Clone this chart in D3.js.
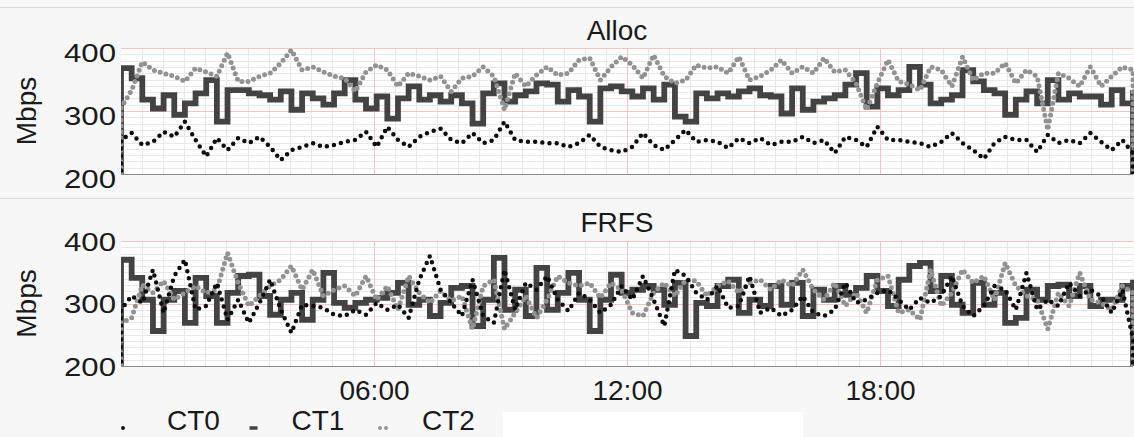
<!DOCTYPE html>
<html>
<head>
<meta charset="utf-8">
<script src="https://cdn.jsdelivr.net/npm/d3@7"></script>
<style>
  body { margin: 0; background: #f7f7f7; }
  svg { display: block; font-family: "Liberation Sans", Arial, sans-serif; }
</style>
</head>
<body>
<svg id="chart" width="1134" height="437"></svg>
<script>
// data (Mbps, 96 samples over 24h)
var seriesNames = ["CT0", "CT1", "CT2"];
var panelTitles = ["Alloc", "FRFS"];
var yTicks = [200, 300, 400];
var xTickHours = [6, 12, 18];

var allocCT0 = [254,265,246,251,267,259,283,254,228,257,238,257,249,259,243,222,238,243,249,243,246,251,254,267,243,275,254,243,259,267,272,254,
  249,265,249,254,283,254,251,251,249,249,243,249,262,243,238,235,243,265,246,238,254,270,251,254,251,241,257,249,257,246,251,251,
  259,249,254,233,259,254,243,275,254,254,251,249,243,251,265,249,238,224,249,259,254,254,235,262,249,254,249,265,251,238,254,233];
var allocCT1 = [368,352,318,304,325,294,312,328,349,283,333,333,328,325,318,331,302,328,320,310,328,349,318,304,323,288,320,339,318,325,315,325,
  312,280,328,344,315,325,331,344,342,315,333,323,283,336,339,331,323,336,318,342,291,283,328,320,328,323,331,336,325,323,296,336,
  302,315,320,325,342,360,307,336,325,333,370,342,312,318,325,365,347,333,328,294,318,331,312,349,318,328,323,323,310,333,312,333];
var allocCT2 = [305,333,378,365,360,355,347,368,362,355,392,347,347,355,360,376,397,365,370,362,355,352,331,362,373,365,339,360,355,349,355,331,
  352,355,370,355,302,360,339,357,370,357,360,381,384,349,370,386,373,352,389,355,344,349,373,368,370,360,386,349,355,365,381,360,
  370,360,384,362,365,344,302,344,381,347,342,333,370,365,339,386,349,360,360,376,344,365,355,270,360,352,339,370,339,355,370,365];

var frfsCT0 = [290,312,301,354,285,344,370,290,296,333,274,306,269,301,338,290,253,298,296,293,282,280,290,282,301,290,298,277,338,376,322,301,
  280,338,280,269,354,290,333,322,344,306,288,317,306,285,298,328,306,344,306,264,354,344,317,306,328,293,296,344,285,293,280,290,
  312,285,280,290,333,301,306,317,322,306,290,309,301,312,344,296,280,296,328,322,290,349,290,306,296,333,312,322,312,285,322,243];
var frfsCT1 = [370,341,306,256,306,320,269,341,312,269,317,344,346,312,282,306,317,274,306,349,301,293,301,306,309,317,333,298,306,280,301,325,
  328,264,306,373,290,322,280,357,290,317,349,306,256,306,346,317,322,328,322,298,333,248,301,296,328,338,285,306,296,328,298,333,
  280,322,306,328,314,325,344,320,296,338,360,365,320,344,298,285,333,298,317,269,277,322,306,328,330,312,328,296,306,306,328,338];
var frfsCT2 = [269,277,330,317,336,306,317,328,317,322,381,333,296,312,328,338,360,322,354,312,322,328,312,344,306,328,290,344,317,301,320,304,
  312,259,328,338,259,285,312,277,306,344,333,328,333,309,333,322,285,280,317,333,312,338,336,312,328,336,317,333,338,322,338,328,
  354,322,306,333,296,317,285,338,344,285,290,274,354,296,317,354,333,344,306,365,328,312,306,259,317,296,349,306,301,290,328,317];

var svgWidth = 1134;
var svgHeight = 437;
var margin = { left: 121, right: 1 };
var width = svgWidth - margin.left - margin.right;

var panels = [
  { title: panelTitles[0], top: 48, height: 126, titleY: 40, labelShift: 4, series: [allocCT0, allocCT1, allocCT2] },
  { title: panelTitles[1], top: 241, height: 125, titleY: 232, labelShift: 0, series: [frfsCT0, frfsCT1, frfsCT2] }
];

var styles = {
  CT0: { color: "#0d0d0d", width: 4.5, dash: "0,7.2", curve: d3.curveLinear },
  CT1: { color: "#434343", width: 5.8, dash: null, curve: d3.curveStepAfter },
  CT2: { color: "#929292", width: 5, dash: "0,6", curve: d3.curveLinear }
};
var drawOrder = ["CT1", "CT2", "CT0"];

var t0 = new Date(Date.UTC(2000, 0, 1, 0));
var t24 = new Date(Date.UTC(2000, 0, 2, 0));

var svg = d3.select("#chart");

// separators
svg.append("line").attr("x1", 0).attr("x2", svgWidth).attr("y1", 7.5).attr("y2", 7.5)
  .attr("stroke", "#dadada");
svg.append("line").attr("x1", 0).attr("x2", svgWidth).attr("y1", 198.5).attr("y2", 198.5)
  .attr("stroke", "#dadada");

var x = d3.scaleUtc().domain([t0, t24]).range([margin.left, margin.left + width]);

function toPoints(values) {
  var step = (t24 - t0) / (values.length - 1);
  var pts = values.map(function(v, i) {
    return { t: new Date(t0.getTime() + i * step), v: v };
  });
  // series start and end at zero
  pts.unshift({ t: t0, v: 0 });
  pts.push({ t: t24, v: 0 });
  return pts;
}

panels.forEach(function(p, pi) {
  var y = d3.scaleLinear().domain([200, 400]).range([p.top + p.height, p.top]);
  var g = svg.append("g");

  g.append("rect")
    .attr("x", margin.left).attr("y", p.top)
    .attr("width", width).attr("height", p.height)
    .attr("fill", "#fff");

  // minor grid
  g.selectAll(".hgrid")
    .data(d3.range(210, 400, 10).filter(function(d) { return d !== 300; }))
    .enter().append("line")
    .attr("x1", margin.left).attr("x2", margin.left + width)
    .attr("y1", function(d) { return Math.round(y(d)) + 0.5; })
    .attr("y2", function(d) { return Math.round(y(d)) + 0.5; })
    .attr("stroke", "#e8e8e8");

  var halfHours = d3.utcMinute.every(30).range(t0, t24).slice(1)
    .filter(function(d) { return d.getUTCMinutes() !== 0 || d.getUTCHours() % 6 !== 0; });
  g.selectAll(".vgrid")
    .data(halfHours)
    .enter().append("line")
    .attr("x1", function(d) { return Math.round(x(d)) + 0.5; })
    .attr("x2", function(d) { return Math.round(x(d)) + 0.5; })
    .attr("y1", p.top).attr("y2", p.top + p.height)
    .attr("stroke", "#e8e8e8");

  // major grid in red
  g.selectAll(".hmajor")
    .data([300, 400])
    .enter().append("line")
    .attr("x1", margin.left).attr("x2", margin.left + width)
    .attr("y1", function(d) { return Math.round(y(d)) + 0.5; })
    .attr("y2", function(d) { return Math.round(y(d)) + 0.5; })
    .attr("stroke", "#f6c4c4");
  g.selectAll(".vmajor")
    .data(xTickHours)
    .enter().append("line")
    .attr("x1", function(d) { return Math.round(x(d3.utcHour.offset(t0, d))) + 0.5; })
    .attr("x2", function(d) { return Math.round(x(d3.utcHour.offset(t0, d))) + 0.5; })
    .attr("y1", p.top).attr("y2", p.top + p.height)
    .attr("stroke", "#f6c4c4");

  g.append("line")
    .attr("x1", margin.left).attr("x2", margin.left + width)
    .attr("y1", p.top + p.height + 0.5).attr("y2", p.top + p.height + 0.5)
    .attr("stroke", "#8a8a8a");

  g.append("clipPath").attr("id", "clip" + pi)
    .append("rect")
    .attr("x", margin.left).attr("y", p.top)
    .attr("width", width + 1).attr("height", p.height);

  var lines = g.append("g").attr("clip-path", "url(#clip" + pi + ")");
  drawOrder.forEach(function(name) {
    var s = styles[name];
    var line = d3.line()
      .x(function(d) { return x(d.t); })
      .y(function(d) { return y(d.v); })
      .curve(s.curve);
    lines.append("path")
      .datum(toPoints(p.series[seriesNames.indexOf(name)]))
      .attr("d", line)
      .attr("fill", "none")
      .attr("stroke", s.color)
      .attr("stroke-width", s.width)
      .attr("stroke-linecap", s.dash ? "round" : "square")
      .attr("stroke-linejoin", "miter")
      .attr("stroke-dasharray", s.dash);
  });

  // y axis, labels are drawn a bit wide like the original
  var yAxis = g.append("g")
    .attr("transform", "translate(" + margin.left + ",0)")
    .call(d3.axisLeft(y).tickValues(yTicks).tickSize(0).tickPadding(0));
  yAxis.select(".domain").remove();
  yAxis.selectAll(".tick text")
    .attr("x", 0)
    .attr("dy", null)
    .attr("y", null)
    .attr("transform", "translate(-5," + (9 + p.labelShift) + ") scale(1.2,1)")
    .attr("fill", "#1a1a1a")
    .style("font-size", "26px")
    .style("font-family", "Liberation Sans, Arial, sans-serif");

  g.append("text")
    .attr("transform", "translate(36," + (p.top + p.height / 2) + ") rotate(-90)")
    .attr("text-anchor", "middle")
    .attr("fill", "#1a1a1a")
    .style("font-size", "28px")
    .text("Mbps");

  g.append("text")
    .attr("x", 617).attr("y", p.titleY)
    .attr("text-anchor", "middle")
    .attr("fill", "#1a1a1a")
    .style("font-size", "28px")
    .text(p.title);

  if (pi === panels.length - 1) {
    var xAxis = g.append("g")
      .attr("transform", "translate(0," + (p.top + p.height) + ")")
      .call(d3.axisBottom(x)
        .tickValues(xTickHours.map(function(h) { return d3.utcHour.offset(t0, h); }))
        .tickFormat(d3.utcFormat("%H:%M"))
        .tickSize(0).tickPadding(14));
    xAxis.select(".domain").remove();
    xAxis.selectAll("text")
      .attr("fill", "#1a1a1a")
      .style("font-size", "28px")
      .style("font-family", "Liberation Sans, Arial, sans-serif");
  }
});

// legend
svg.append("rect")
  .attr("x", 503).attr("y", 412)
  .attr("width", 300).attr("height", 25)
  .attr("fill", "#fff");

var legend = svg.selectAll(".legend")
  .data(seriesNames)
  .enter().append("g")
  .attr("class", "legend")
  .attr("transform", function(d, i) { return "translate(" + (123 + i * 130.5) + ",428)"; });

legend.append("line")
  .attr("x1", function(d) { return d === "CT0" ? 0 : -4; })
  .attr("x2", function(d) { return d === "CT0" ? 0 : 4; })
  .attr("y1", 0).attr("y2", 0)
  .attr("stroke", function(d) { return styles[d].color; })
  .attr("stroke-width", function(d) { return d === "CT1" ? 3.5 : 3.8; })
  .attr("stroke-linecap", function(d) { return d === "CT1" ? "butt" : "round"; })
  .attr("stroke-dasharray", function(d) { return d === "CT2" ? "0,6" : null; });

legend.append("text")
  .attr("x", function(d, i) { return i === 0 ? 44 : 38; })
  .attr("y", 2)
  .attr("fill", "#1a1a1a")
  .style("font-size", "28px")
  .text(function(d) { return d; });
</script>
</body>
</html>
